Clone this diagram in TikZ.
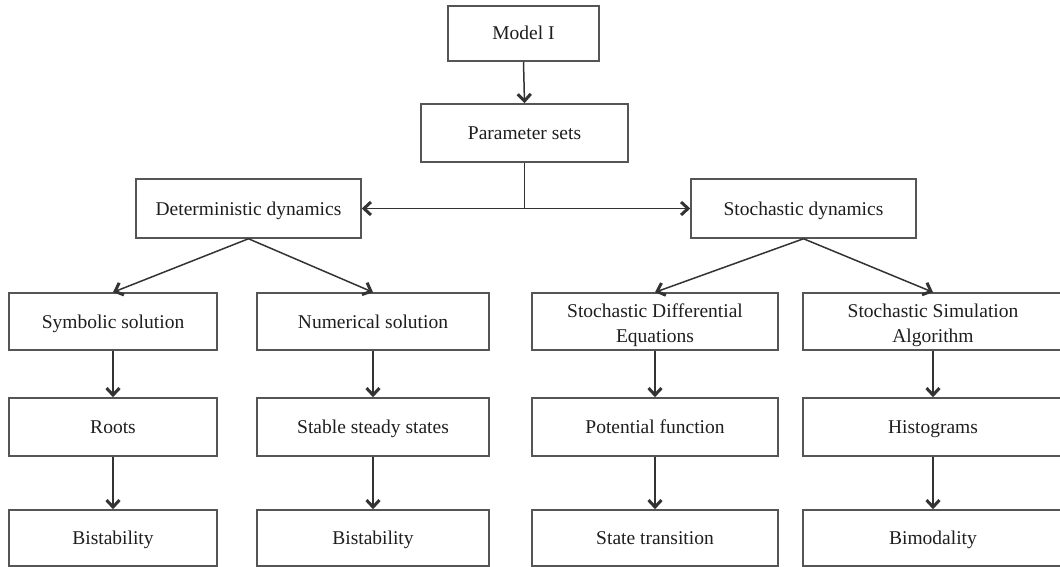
\documentclass[tikz,border=0pt]{standalone}
\usepackage{fontspec}
\setmainfont{Liberation Serif}
\usetikzlibrary{arrows.meta}
\definecolor{boxline}{HTML}{555555}
\definecolor{linkline}{HTML}{333333}
\definecolor{txt}{HTML}{1E1E1E}
\begin{document}
\begin{tikzpicture}[x=1pt,y=-1pt,
  boxbase/.style={draw=boxline,line width=1.5pt,rectangle,inner sep=0pt,
    align=center,text=txt,font=\fontsize{19.5}{25}\selectfont},
  box/.style={boxbase,text height=13pt,text depth=0pt},
  twoline/.style={boxbase},
  link/.style={draw=linkline,line width=1.5pt},
  arr/.style={link,-{Straight Barb[length=7pt,width=13pt,line width=3pt]}}]
\useasboundingbox (0,0) rectangle (1060,567);

% top of the tree
\node[box,minimum width=151pt,minimum height=55pt] (model) at (523.5,33.5) {Model I};
\node[box,minimum width=207pt,minimum height=58pt] (param) at (524.5,133) {Parameter sets};

% the two branches
\node[box,minimum width=225pt,minimum height=59pt] (det) at (248.5,208.5) {Deterministic dynamics};
\node[box,minimum width=225pt,minimum height=59pt] (sto) at (803.5,208.5) {Stochastic dynamics};

% methods
\node[box,minimum width=208pt,minimum height=57pt] (sym) at (113,321.5) {Symbolic solution};
\node[box,minimum width=232pt,minimum height=57pt] (num) at (373,321.5) {Numerical solution};
\node[twoline,minimum width=246pt,minimum height=57pt] (sde) at (655,321.5)
  {\rule{0pt}{22pt}Stochastic Differential\\Equations};
\node[twoline,minimum width=260pt,minimum height=57pt] (ssa) at (933,321.5)
  {\rule{0pt}{22pt}Stochastic Simulation\\Algorithm};

% intermediate results
\node[box,minimum width=208pt,minimum height=58pt] (roots) at (113,427) {Roots};
\node[box,minimum width=232pt,minimum height=58pt] (sss) at (373,427) {Stable steady states};
\node[box,minimum width=246pt,minimum height=58pt] (pot) at (655,427) {Potential function};
\node[box,minimum width=260pt,minimum height=58pt] (hist) at (933,427) {Histograms};

% conclusions
\node[box,minimum width=208pt,minimum height=56pt] (bis1) at (113,538) {Bistability};
\node[box,minimum width=232pt,minimum height=56pt] (bis2) at (373,538) {Bistability};
\node[box,minimum width=246pt,minimum height=56pt] (trans) at (655,538) {State transition};
\node[box,minimum width=260pt,minimum height=56pt] (bimod) at (933,538) {Bimodality};

% connectors
\draw[arr] (model.south) -- (param.north);
\coordinate (junc) at (param.south |- det.east);
\draw[link] (param.south) -- (junc);
\draw[arr] (junc) -- (det.east);
\draw[arr] (junc) -- (sto.west);

\draw[arr] (det.south) -- (sym.north);
\draw[arr] (det.south) -- (num.north);
\draw[arr] (sto.south) -- (sde.north);
\draw[arr] (sto.south) -- (ssa.north);

\draw[arr] (sym.south) -- (roots.north);
\draw[arr] (num.south) -- (sss.north);
\draw[arr] (sde.south) -- (pot.north);
\draw[arr] (ssa.south) -- (hist.north);

\draw[arr] (roots.south) -- (bis1.north);
\draw[arr] (sss.south) -- (bis2.north);
\draw[arr] (pot.south) -- (trans.north);
\draw[arr] (hist.south) -- (bimod.north);
\end{tikzpicture}
\end{document}
